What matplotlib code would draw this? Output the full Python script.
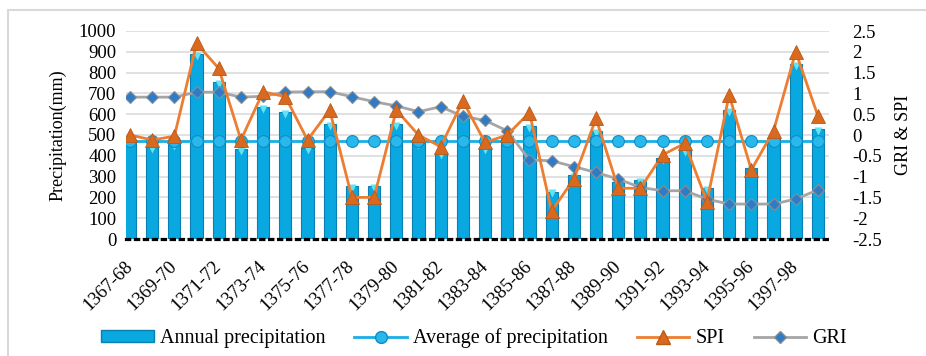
import numpy as np
import matplotlib
matplotlib.use("Agg")
import matplotlib.pyplot as plt
from matplotlib.patches import Rectangle
from matplotlib.lines import Line2D

plt.rcParams['font.family'] = ['Liberation Serif', 'DejaVu Serif']

# Data
years = ['1367-68', '1368-69', '1369-70', '1370-71', '1371-72', '1372-73', '1373-74', '1374-75',
         '1375-76', '1376-77', '1377-78', '1378-79', '1379-80', '1380-81', '1381-82', '1382-83',
         '1383-84', '1384-85', '1385-86', '1386-87', '1387-88', '1388-89', '1389-90', '1390-91',
         '1391-92', '1392-93', '1393-94', '1394-95', '1395-96', '1396-97', '1397-98', '1398-99']

precip = [470, 440, 455, 890, 753, 433, 636, 609, 439, 551, 255, 255, 551, 460, 412, 595,
          436, 495, 545, 228, 308, 519, 276, 284, 388, 428, 244, 620, 340, 484, 840, 529]

avg_precip = 473

spi = [0.0, -0.12, -0.03, 2.2, 1.6, -0.12, 1.04, 0.92, -0.12, 0.6, -1.5, -1.5, 0.6, 0.0, -0.28, 0.82,
       -0.18, 0.0, 0.54, -1.83, -1.06, 0.4, -1.28, -1.28, -0.48, -0.2, -1.6, 0.96, -0.84, 0.1, 2.0, 0.46]

gri = [0.91, 0.91, 0.91, 1.03, 1.03, 0.91, 0.93, 1.03, 1.04, 1.04, 0.92, 0.8, 0.7, 0.56, 0.68, 0.45,
       0.35, 0.1, -0.6, -0.62, -0.76, -0.9, -1.06, -1.26, -1.34, -1.34, -1.54, -1.66, -1.66, -1.66, -1.54, -1.32]

x = np.arange(len(years))

fig = plt.figure(figsize=(9.26, 3.56), dpi=100)
ax = fig.add_axes([126 / 926, 117 / 356, 703 / 926, 208 / 356])
ax2 = ax.twinx()

# bars
ax.bar(x, precip, width=0.55, color='#09A8E0', edgecolor='#0A7FB2', linewidth=0.8, zorder=2)
ax.plot(x, np.array(precip) - 9, 'v', ms=6, color='#62E3F2', mec='none', zorder=3)

# average line
ax.plot(x, np.full(len(x), avg_precip), color='#19AEE6', lw=2, marker='o', ms=8.5,
        mfc='#29B8EC', mec='#0E8DC2', mew=0.8, zorder=4)

# indices
ax2.plot(x, gri, color='#A5A5A5', lw=2, marker='D', ms=6, mfc='#2E7CC8', mec='#8C8C8C', mew=0.8, zorder=3)
ax2.plot(x, spi, color='#ED7D31', lw=2, marker='^', ms=10, mfc='#D9691F', mec='#B85A18', mew=0.6, zorder=4)

ax.set_xlim(-0.18, 31.5)
ax.set_ylim(0, 1000)
ax.set_yticks(np.arange(0, 1001, 100))
ax2.set_ylim(-2.5, 2.5)
ax2.set_yticks(np.arange(-2.5, 2.51, 0.5))
ax2.set_yticklabels(['%g' % v for v in np.arange(-2.5, 2.51, 0.5)])

ax.yaxis.grid(True, color='#DCDCDC', lw=1.2, zorder=0)
ax.set_axisbelow(True)

for a in (ax, ax2):
    for s in ('left', 'right', 'top', 'bottom'):
        a.spines[s].set_visible(False)
ax.spines['bottom'].set_visible(True)
ax.spines['bottom'].set_color('black')
ax.spines['bottom'].set_linewidth(2.3)
ax.spines['bottom'].set_linestyle((0, (1, 1.8)))

ax.tick_params(axis='y', length=0, pad=7, labelsize=13.5)
ax2.tick_params(axis='y', length=0, pad=17, labelsize=13.5)
ax.set_xticks(x[::2])
ax.set_xticklabels(years[::2], rotation=45, ha='right', va='center', rotation_mode='anchor', fontsize=13.5)
ax.tick_params(axis='x', length=0, pad=18)

ax.set_ylabel('Precipitation(mm)', fontsize=13, labelpad=9)
ax2.set_ylabel('GRI & SPI', fontsize=13, labelpad=9)

handles = [
    Rectangle((0, 0), 1, 1, facecolor='#09A8E0', edgecolor='#0A7FB2'),
    Line2D([], [], color='#19AEE6', lw=2, marker='o', ms=8.5, mfc='#29B8EC', mec='#0E8DC2'),
    Line2D([], [], color='#ED7D31', lw=2, marker='^', ms=10, mfc='#D9691F', mec='#B85A18'),
    Line2D([], [], color='#A5A5A5', lw=2, marker='D', ms=6, mfc='#2E7CC8', mec='#8C8C8C'),
]
labels = ['Annual precipitation', 'Average of precipitation', 'SPI', 'GRI']
fig.legend(handles, labels, loc='center', bbox_to_anchor=(474 / 926, 1 - 338 / 356), ncol=4,
           frameon=False, fontsize=14.5, handlelength=2.6, handleheight=0.5,
           columnspacing=1.45, handletextpad=0.3)

# outer chart frame
fig.add_artist(Rectangle((8 / 926, -0.1), 1.2, 1.1 - 10 / 356, transform=fig.transFigure,
                         fill=False, edgecolor='#D9D9D9', lw=1.5))

fig.savefig('out.png', dpi=100)
